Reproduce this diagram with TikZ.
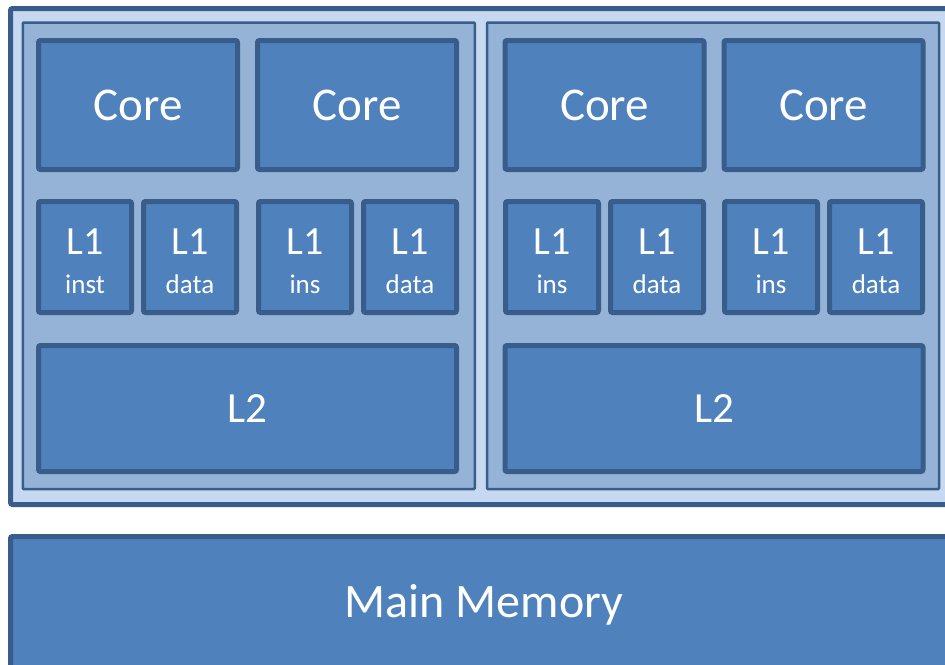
\documentclass[tikz,border=0pt]{standalone}
\usepackage{fontspec}
\setmainfont{Carlito}
\usetikzlibrary{positioning}
\definecolor{box_fill}{HTML}{4F81BD}
\definecolor{box_line}{HTML}{385D8A}
\definecolor{cluster_fill}{HTML}{95B3D7}
\definecolor{chip_fill}{HTML}{C6D9F0}
\tikzstyle{unit_node} = [
    rectangle, 
    rounded corners=2pt, 
    text=white, 
    draw=box_line, 
    fill=box_fill, 
    line width=5pt, 
    align=center, 
    inner sep=0pt
]
\tikzstyle{core_node} = [
    unit_node, 
    minimum width=199pt, 
    minimum height=129pt, 
    font=\fontsize{47}{47}\selectfont
]
\tikzstyle{l1_node} = [
    unit_node, 
    minimum width=93pt, 
    minimum height=111pt, 
    font=\fontsize{40}{40}\selectfont
]
\tikzstyle{l2_node} = [
    unit_node, 
    minimum width=418pt, 
    minimum height=126pt, 
    font=\fontsize{43}{43}\selectfont
]
\tikzstyle{cluster} = [
    rectangle, 
    rounded corners=1pt, 
    draw=box_line, 
    fill=cluster_fill, 
    line width=2.5pt, 
    inner sep=0pt, 
    minimum width=452pt, 
    minimum height=466.5pt
]
% two-line text of an L1 cache
\newcommand{\lone}[1]{\rule{0pt}{35pt}L1\\[-1pt]{\fontsize{27}{27}\selectfont #1}}

\begin{document}
\begin{tikzpicture}[x=1pt, y=-1pt]
\useasboundingbox (0,0) rectangle (945,664);
\clip (0,0) rectangle (945,664);
% chip
\node [rectangle, rounded corners=2pt, draw=box_line, fill=chip_fill, 
    line width=5pt, inner sep=0pt, minimum width=944.5pt, 
    minimum height=496pt] (chip) at (482.75,256.5) {};
% the two clusters
\node [cluster] (cluster_left) at (248.75,255.75) {};
\node [cluster] (cluster_right) at (713,255.75) {};
% cores
\node [core_node] (core_a) at (138,105) {Core};
\node [core_node] (core_b) at (357,105) {Core};
\node [core_node] (core_c) at (604.5,105) {Core};
\node [core_node] (core_d) at (823.5,105) {Core};
% L1 caches
\node [l1_node] (l1_a) at (85,257) {\lone{inst}};
\node [l1_node] (l1_b) at (190,257) {\lone{data}};
\node [l1_node] (l1_c) at (305,257) {\lone{ins}};
\node [l1_node] (l1_d) at (410,257) {\lone{data}};
\node [l1_node] (l1_e) at (552,257) {\lone{ins}};
\node [l1_node] (l1_f) at (657,257) {\lone{data}};
\node [l1_node] (l1_g) at (771,257) {\lone{ins}};
\node [l1_node] (l1_h) at (876,257) {\lone{data}};
% L2 caches
\node [l2_node] (l2_left) at (247.5,408.5) {L2};
\node [l2_node] (l2_right) at (714,408.5) {L2};
% memory
\node [unit_node, minimum width=947pt, minimum height=137.5pt, 
    font=\fontsize{48}{48}\selectfont] (memory) at (484,605.25) {Main Memory};
\end{tikzpicture}
\end{document}
